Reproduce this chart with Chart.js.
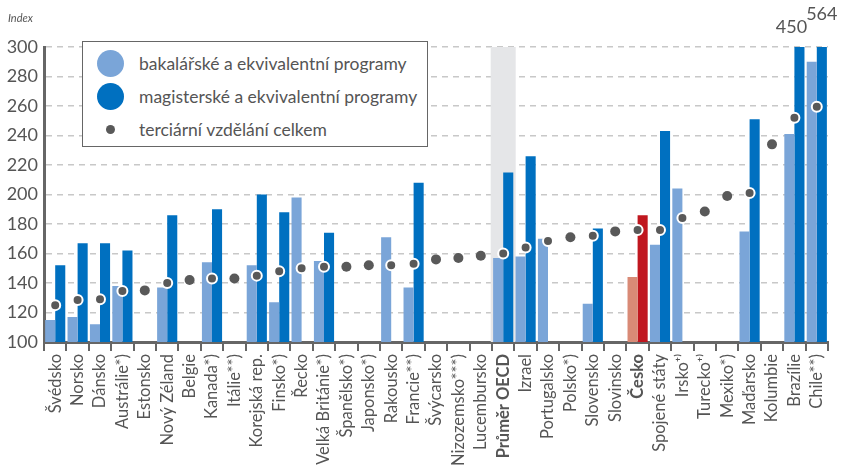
<!DOCTYPE html>
<html>
<head>
<meta charset="utf-8">
<script src="https://cdn.jsdelivr.net/npm/chart.js@4"></script>
<style>
    body { margin: 0; background: #fff; }
    #wrap { position: relative; width: 845px; height: 473px; }
    #indexLabel { position: absolute; left: 8px; top: 11px; font: italic 11px Lato, sans-serif; color: #555; }
    #legend {
        position: absolute; left: 82px; top: 41px; width: 344px; height: 104px;
        border: 1.5px solid #666; background: #fff; font: 17.5px Lato, sans-serif; color: #555;
    }
    .item { position: absolute; left: 0; height: 30px; width: 100%; }
    .item .mark { position: absolute; border-radius: 50%; }
    .item span { position: absolute; left: 56px; top: 4px; white-space: nowrap; }
</style>
</head>
<body>
<div id="wrap">
    <canvas id="chart" width="845" height="473"></canvas>
    <div id="indexLabel">Index</div>
    <div id="legend">
        <div class="item" style="top:7px"><div class="mark" style="left:14px;top:1px;width:27px;height:27px;background:#7aa5d8"></div><span>bakalářské a ekvivalentní programy</span></div>
        <div class="item" style="top:40px"><div class="mark" style="left:14px;top:1px;width:27px;height:27px;background:#0070c0"></div><span>magisterské a ekvivalentní programy</span></div>
        <div class="item" style="top:73px"><div class="mark" style="left:23px;top:10px;width:9px;height:9px;background:#595959"></div><span>terciární vzdělání celkem</span></div>
    </div>
</div>
<script>
const countries = ['Švédsko', 'Norsko', 'Dánsko', 'Austrálie*)', 'Estonsko', 'Nový Zéland', 'Belgie', 'Kanada*)',
    'Itálie**)', 'Korejská rep.', 'Finsko*)', 'Řecko', 'Velká Británie*)', 'Španělsko*)', 'Japonsko*)', 'Rakousko',
    'Francie**)', 'Švýcarsko', 'Nizozemsko***)', 'Lucembursko', 'Průměr OECD', 'Izrael', 'Portugalsko', 'Polsko*)',
    'Slovensko', 'Slovinsko', 'Česko', 'Spojené státy', 'Irsko⁺⁾', 'Turecko⁺⁾', 'Mexiko*)', 'Maďarsko', 'Kolumbie',
    'Brazílie', 'Chile**)'];

const bachelor = [115, 117, 112, 138, null, 137, null, 154, null, 152, 127, 198, 155, null, null, 171,
    137, null, null, null, 157, 158, 170, null, 126, null, 144, 166, 204, null, null, 175, null, 241, 290];

const master = [152, 167, 167, 162, null, 186, null, 190, null, 200, 188, null, 174, null, null, null,
    208, null, null, null, 215, 226, null, null, 177, null, 186, 243, null, null, null, 251, null, 450, 564];

const tertiary = [125, 128.5, 129, 134.5, 135, 140, 142, 143, 143, 145, 148, 150, 151, 151, 152, 152,
    153, 156, 157, 158.5, 160, 164, 168.5, 171, 172, 175, 176, 176, 184, 188.5, 199, 201, 234, 252, 259.5];

const yTicks = [100, 120, 140, 160, 180, 200, 220, 240, 260, 280, 300];

const oecdIndex = countries.indexOf('Průměr OECD');
const czIndex = countries.indexOf('Česko');
const textColor = '#555';
const fontFamily = 'Lato, sans-serif';

const lightColors = countries.map((c, i) => i === czIndex ? '#d98a76' : '#7aa5d8');
const darkColors = countries.map((c, i) => i === czIndex ? '#c0171f' : '#0070c0');
const ringWidth = countries.map((c, i) => (bachelor[i] !== null || master[i] !== null) ? 2 : 0);

// grey band behind the OECD average
const bandPlugin = {
    id: 'band',
    beforeDatasetsDraw(chart) {
        const x = chart.scales.x;
        const area = chart.chartArea;
        const cx = x.getPixelForValue(oecdIndex);
        const ctx = chart.ctx;
        ctx.save();
        ctx.fillStyle = '#e5e6e8';
        ctx.fillRect(cx - 12.5, area.top, 25, area.bottom - area.top);
        ctx.restore();
    }
};

// values of bars cut by the axis
const overflowPlugin = {
    id: 'overflow',
    afterDatasetsDraw(chart) {
        const meta = chart.getDatasetMeta(2);
        const area = chart.chartArea;
        const ctx = chart.ctx;
        ctx.save();
        ctx.fillStyle = textColor;
        ctx.font = '18px ' + fontFamily;
        ctx.textAlign = 'center';
        let k = 0;
        master.forEach((v, i) => {
            if (v !== null && v > 300) {
                const bar = meta.data[i];
                const dx = k === 0 ? -8 : 0;
                const dy = k === 0 ? 14 : 27;
                ctx.fillText(String(v), bar.x + dx, area.top - dy);
                k++;
            }
        });
        ctx.restore();
    }
};

new Chart(document.getElementById('chart'), {
    type: 'bar',
    data: {
        labels: countries,
        datasets: [
            {
                type: 'line',
                label: 'terciární vzdělání celkem',
                data: tertiary,
                showLine: false,
                pointRadius: 5,
                pointHoverRadius: 5,
                pointBackgroundColor: '#595959',
                pointBorderColor: '#fff',
                pointBorderWidth: ringWidth,
                order: 0
            },
            {
                label: 'bakalářské a ekvivalentní programy',
                data: bachelor,
                backgroundColor: lightColors,
                categoryPercentage: 0.9,
                barPercentage: 1.0,
                order: 1
            },
            {
                label: 'magisterské a ekvivalentní programy',
                data: master,
                backgroundColor: darkColors,
                categoryPercentage: 0.9,
                barPercentage: 1.0,
                order: 1
            }
        ]
    },
    options: {
        responsive: false,
        animation: false,
        layout: { padding: { top: 47, right: 17, left: 0, bottom: 0 } },
        plugins: {
            legend: { display: false },
            tooltip: { enabled: false }
        },
        scales: {
            x: {
                offset: true,
                grid: { display: true, drawOnChartArea: false, drawTicks: true, tickLength: 9, color: '#666', lineWidth: 2 },
                border: { display: true, color: '#666', width: 3 },
                ticks: {
                    autoSkip: false,
                    maxRotation: 90,
                    minRotation: 90,
                    padding: 3,
                    color: textColor,
                    font: (ctx) => ({
                        family: fontFamily,
                        size: 16.5,
                        weight: (ctx.index === oecdIndex || ctx.index === czIndex) ? 'bold' : 'normal'
                    })
                },
                afterFit(scale) { scale.height = 131; }
            },
            y: {
                min: 100,
                max: 300,
                afterBuildTicks(scale) { scale.ticks = yTicks.map(v => ({ value: v })); },
                grid: {
                    drawTicks: false,
                    color: (ctx) => ctx.tick.value === 100 ? 'rgba(0,0,0,0)' : '#c8c8c8',
                    lineWidth: 1.5
                },
                border: { display: true, color: '#666', width: 3, dash: [6, 5] },
                ticks: { padding: 6, color: textColor, font: { family: fontFamily, size: 18 } },
                afterFit(scale) { scale.width = 44; }
            }
        }
    },
    plugins: [bandPlugin, overflowPlugin]
});
</script>
</body>
</html>
